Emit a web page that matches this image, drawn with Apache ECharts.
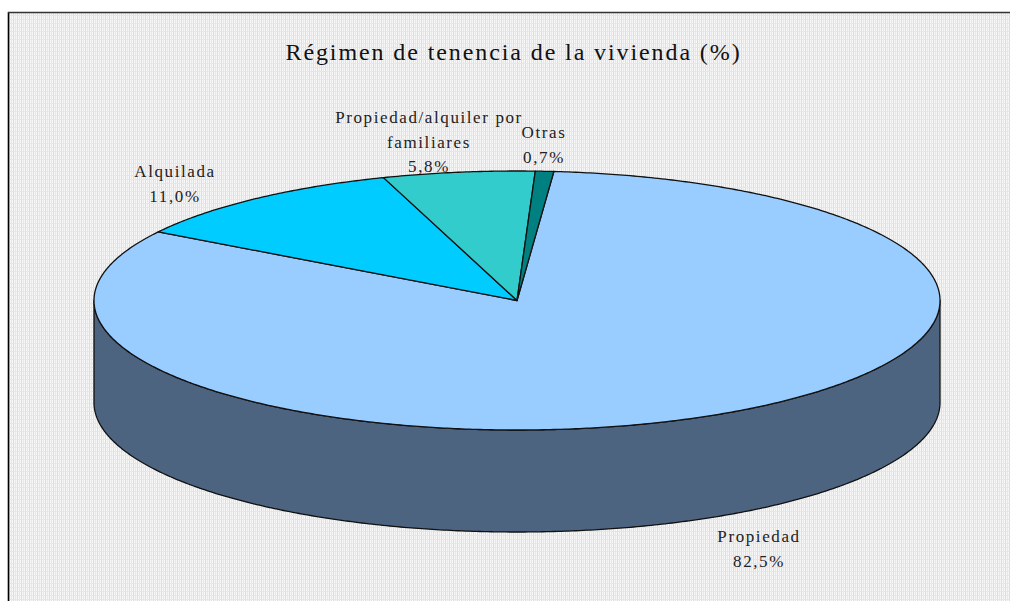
<!DOCTYPE html>
<html>
<head>
<meta charset="utf-8">
<style>
html,body{margin:0;padding:0;background:#fff;overflow:hidden}
#c{width:1010px;height:601px}
svg text{letter-spacing:1.6px}
svg text[style*="24px"]{letter-spacing:1.9px}
</style>
<script src="https://cdn.jsdelivr.net/npm/echarts@6/dist/echarts.min.js"></script>
</head>
<body>
<div id="c"></div>
<script>
const titleText = 'Régimen de tenencia de la vivienda (%)';
const categories = ['Propiedad', 'Alquilada', 'Propiedad/alquiler por\nfamiliares', 'Otras'];
const values = [82.5, 11.0, 5.8, 0.7];
const valueLabels = ['82,5%', '11,0%', '5,8%', '0,7%'];
const topColors = ['#99CCFF', '#00CCFF', '#33CCCC', '#008080'];
const sideColors = ['#4D6480', '#006680', '#1A6666', '#004040'];
const labelAnchors = [[759, 549], [175, 184], [429, 142], [544, 145]];

const cx = 517, cy = 300.5, rx = 423, ry = 129.5, depth = 102, startDeg = 5;

function pt(deg, dy) {
  const a = deg * Math.PI / 180;
  return [cx + rx * Math.sin(a), cy - ry * Math.cos(a) + (dy || 0)];
}
function arc(from, to, dy) {
  const pts = [];
  const n = Math.max(2, Math.ceil((to - from) / 0.5));
  for (let i = 0; i <= n; i++) pts.push(pt(from + (to - from) * i / n, dy));
  return pts;
}

const total = values.reduce((s, v) => s + v, 0);

const tile = document.createElement('canvas');
tile.width = 4; tile.height = 4;
(function () {
  const g = tile.getContext('2d');
  g.fillStyle = '#f7f7f7'; g.fillRect(0, 0, 4, 4);
  g.fillStyle = '#dcdcdc'; g.fillRect(1, 0, 1, 4);
  g.fillStyle = '#e8e8e8'; g.fillRect(3, 0, 1, 4);
  g.fillStyle = '#e6e6e6'; g.fillRect(0, 3, 4, 1);
})();

const chart = echarts.init(document.getElementById('c'), null, { renderer: 'svg' });
chart.setOption({
  animation: false,
  graphic: [
    { type: 'rect', z: 0, shape: { x: 9, y: 13, width: 1001, height: 588 },
      style: { fill: { image: tile, repeat: 'repeat' } }, silent: true },
    { type: 'line', z: 1, shape: { x1: 8.5, y1: 12, x2: 8.5, y2: 601 }, style: { stroke: '#000', lineWidth: 1.6 }, silent: true },
    { type: 'line', z: 1, shape: { x1: 8, y1: 12.5, x2: 1010, y2: 12.5 }, style: { stroke: '#333', lineWidth: 1.4 }, silent: true }
  ],
  title: {
    text: titleText, left: 508.5, top: 47, textAlign: 'center', textVerticalAlign: 'middle',
    textStyle: { fontFamily: 'Liberation Serif', fontSize: 24, fontWeight: 'normal', color: '#111' }
  },
  series: [{
    type: 'custom',
    coordinateSystem: 'none',
    silent: true,
    z: 5,
    data: values.map((v, i) => [v, i]),
    renderItem(params, api) {
      const i = api.value(1);
      let before = 0;
      for (let k = 0; k < i; k++) before += values[k];
      const a0 = startDeg + before / total * 360;
      const a1 = a0 + api.value(0) / total * 360;
      const children = [];
      const lo = Math.max(a0, 90), hi = Math.min(a1, 270);
      if (lo < hi) {
        const top = arc(lo, hi, 0);
        const bot = arc(lo, hi, depth).reverse();
        children.push({ type: 'polygon', shape: { points: top.concat(bot) },
          style: { fill: sideColors[i], stroke: '#111', lineWidth: 1.3, lineJoin: 'round' } });
      }
      children.push({ type: 'polygon', shape: { points: [[cx, cy]].concat(arc(a0, a1, 0)) },
        style: { fill: topColors[i], stroke: '#111', lineWidth: 1.3, lineJoin: 'round' } });
      children.push({ type: 'text', style: {
        text: categories[i] + '\n' + valueLabels[i],
        x: labelAnchors[i][0], y: labelAnchors[i][1],
        align: 'center', verticalAlign: 'middle',
        fontFamily: 'Liberation Serif', fontSize: 17, lineHeight: 24.5, fill: '#222'
      } });
      return { type: 'group', children };
    }
  }]
});
</script>
</body>
</html>
